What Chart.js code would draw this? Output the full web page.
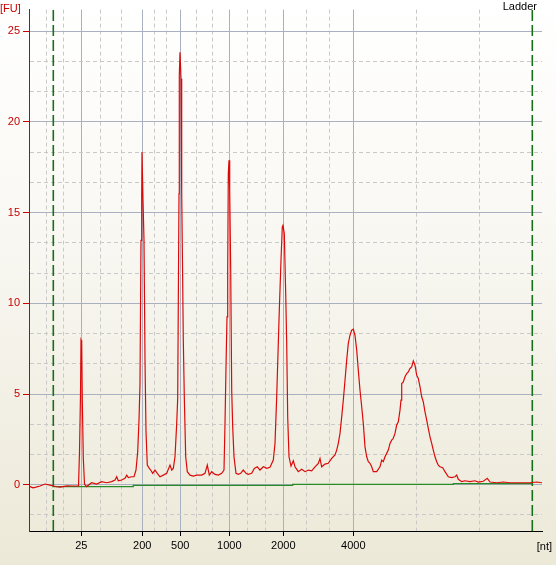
<!DOCTYPE html>
<html><head><meta charset="utf-8">
<script src="https://cdn.jsdelivr.net/npm/chart.js@4"></script>
<style>html,body{margin:0;padding:0;background:#fff}canvas{display:block}</style>
</head><body>
<canvas id="c" width="556" height="565"></canvas>
<script>
// Migration time (s) and fluorescence (FU) of the ladder trace
const traceTime = [20.0,20.35,20.65,21.05,21.55,22.05,22.35,22.75,23.05,23.75,24.25,24.9,25.0,25.1,25.15,25.22,25.28,25.38,25.5,25.7,26.22,26.72,27.22,27.72,28.22,28.55,28.72,28.88,29.22,29.55,29.72,29.88,30.22,30.45,30.65,30.82,30.95,31.05,31.15,31.22,31.25,31.35,31.45,31.55,31.65,31.78,31.98,32.12,32.32,32.55,32.78,33.05,33.38,33.72,34.05,34.22,34.38,34.55,34.72,34.82,34.88,34.95,34.98,35.05,35.15,35.22,35.32,35.38,35.48,35.62,35.78,36.05,36.38,36.72,37.22,37.55,37.78,37.98,38.22,38.55,38.88,39.22,39.45,39.55,39.65,39.75,39.82,39.88,39.95,40.02,40.12,40.22,40.32,40.45,40.65,40.88,41.12,41.38,41.65,41.88,42.22,42.48,42.78,43.05,43.38,43.72,44.05,44.38,44.55,44.72,44.88,44.98,45.15,45.28,45.35,45.48,45.62,45.72,45.82,45.95,46.15,46.38,46.55,46.88,47.22,47.55,47.88,48.22,48.55,48.88,49.05,49.22,49.55,49.88,50.22,50.55,50.72,50.88,51.05,51.22,51.38,51.55,51.72,51.88,52.05,52.22,52.38,52.55,52.72,52.88,53.05,53.22,53.38,53.55,53.72,53.88,54.05,54.22,54.38,54.72,55.05,55.22,55.38,55.55,55.88,56.05,56.22,56.38,56.55,56.72,56.88,57.05,57.15,57.22,57.38,57.55,57.72,57.88,58.05,58.22,58.38,58.55,58.72,58.88,59.05,59.22,59.38,59.55,59.72,59.88,60.05,60.22,60.38,60.55,60.72,60.88,61.05,61.32,61.55,61.88,62.22,62.55,62.72,62.88,63.22,63.55,64.05,64.55,64.88,65.38,65.78,66.05,66.72,67.38,68.05,68.72,69.38,70.05,70.72,71.25];
const traceFU = [-0.09,-0.17,-0.13,-0.07,0.04,-0.02,-0.07,-0.11,-0.13,-0.06,-0.07,-0.07,1.80,4.94,7.97,7.86,4.66,1.47,0.04,-0.10,0.11,0.04,0.17,0.11,0.17,0.26,0.44,0.22,0.26,0.35,0.53,0.39,0.44,0.44,0.81,1.82,3.56,5.58,13.47,15.86,18.34,15.68,13.47,6.87,2.92,1.08,0.90,0.81,0.63,0.81,0.63,0.44,0.53,0.63,1.08,0.81,0.90,1.54,3.38,4.76,9.99,16.05,22.56,23.84,22.38,16.05,11.09,7.97,4.85,1.54,0.72,0.53,0.48,0.53,0.53,0.63,1.08,0.53,0.72,0.57,0.53,0.63,0.81,3.38,6.50,9.25,11.82,17.15,17.88,16.23,11.82,5.21,3.19,1.54,0.63,0.57,0.63,0.81,0.63,0.57,0.63,0.90,0.99,0.81,0.99,0.90,0.96,1.36,2.28,4.85,7.79,9.62,12.37,14.21,14.30,13.84,10.54,7.79,3.74,1.54,1.03,1.32,0.99,0.72,0.85,0.72,0.81,0.77,0.99,1.18,1.45,0.99,1.14,1.18,1.45,1.64,1.91,2.28,2.83,3.74,4.66,5.76,6.87,7.79,8.24,8.52,8.57,8.24,7.42,6.32,5.21,4.30,3.38,2.09,1.54,1.27,1.18,0.99,0.72,0.72,0.99,1.36,1.27,1.54,1.91,2.28,2.46,2.56,2.83,3.29,3.47,4.11,4.66,5.58,5.67,5.95,6.13,6.22,6.41,6.50,6.83,6.59,6.04,5.86,5.40,4.85,4.57,4.02,3.56,3.11,2.64,2.28,1.91,1.54,1.27,1.08,0.99,0.94,0.72,0.44,0.39,0.44,0.53,0.30,0.17,0.22,0.17,0.22,0.15,0.19,0.35,0.15,0.11,0.15,0.11,0.11,0.11,0.11,0.15,0.11];

// Baseline (green)
const baselineTime = [22.28,30.38,30.38,46.32,46.32,62.38,62.38,70.28];
const baselineFU = [-0.10,-0.10,-0.03,-0.03,0.02,0.02,0.06,0.06];

// Lower / upper marker positions (s)
const markerTimes = [22.38, 70.28];

// Ladder sizes on the x axis
const ladderTimes = [25.18, 31.28, 35.08, 39.98, 45.38, 52.38];
const ladderLabels = ['25','200','500','1000','2000','4000'];
const minorGridTimes = [21.65,23.38,27.12,29.18,32.48,33.72,36.68,38.28,41.82,43.62,47.68,49.98,58.68,64.98];

// Y ticks
const yMajorTicks = [0,5,10,15,20,25];
const yMinorTicks = [-1.667,1.667,3.333,6.667,8.333,11.667,13.333,16.667,18.333,21.667,23.333];

const sampleName = 'Ladder';
const yUnit = '[FU]';
const xUnit = '[nt]';

const X_MIN = 19.95, X_MAX = 71.25, Y_MIN = -2.55, Y_MAX = 26.19;

const near = (a, b) => Math.abs(a - b) < 1e-3;
const isMajorX = v => ladderTimes.some(t => near(t, v));
const isMajorY = v => yMajorTicks.some(t => near(t, v));

const FONT = {family: 'Liberation Sans', size: 11};
const AXIS_RED = '#C80000';
const GRID_MAJOR = '#A9B1C0';
const GRID_MINOR = '#C9C9C9';

const bgPlugin = {
  id: 'bg',
  beforeDraw(chart) {
    const {ctx, width, height} = chart;
    const g = ctx.createLinearGradient(0, 0, 0, height);
    g.addColorStop(0, '#FFFFFF');
    g.addColorStop(0.35, '#FAF9F5');
    g.addColorStop(1, '#ECE9D8');
    ctx.save();
    ctx.fillStyle = g;
    ctx.fillRect(0, 0, width, height);
    ctx.restore();
  }
};

const textPlugin = {
  id: 'texts',
  afterDraw(chart) {
    const {ctx, chartArea, width} = chart;
    ctx.save();
    ctx.font = '11px "Liberation Sans"';
    ctx.textBaseline = 'middle';
    ctx.fillStyle = AXIS_RED;
    ctx.textAlign = 'left';
    ctx.fillText(yUnit, 0, 9);
    ctx.fillStyle = '#000';
    ctx.textAlign = 'right';
    ctx.fillText(xUnit, width - 4, chartArea.bottom + 16);
    ctx.fillText(sampleName, width - 19, 7);
    ctx.restore();
  }
};

const trace = traceTime.map((t, i) => ({x: t, y: traceFU[i]}));
const baseline = baselineTime.map((t, i) => ({x: t, y: baselineFU[i]}));
const markerSets = markerTimes.map(t => ({
  data: [{x: t, y: Y_MIN}, {x: t, y: Y_MAX}],
  borderColor: '#16701A', borderWidth: 1.6, borderDash: [11, 4],
  pointRadius: 0, fill: false
}));

new Chart(document.getElementById('c'), {
  type: 'line',
  data: {
    datasets: [
      {data: trace, borderColor: '#DA0A0A', borderWidth: 1.2, pointRadius: 0, tension: 0, fill: false},
      {data: baseline, borderColor: '#2A8A2A', borderWidth: 1.3, pointRadius: 0, tension: 0, fill: false},
      ...markerSets
    ]
  },
  options: {
    responsive: false,
    animation: false,
    devicePixelRatio: 1,
    layout: {padding: {top: 9, right: 14, left: 0, bottom: 0}},
    plugins: {legend: {display: false}, tooltip: {enabled: false}},
    scales: {
      x: {
        type: 'linear', min: X_MIN, max: X_MAX,
        afterFit: s => { s.height = 34; },
        afterBuildTicks: s => {
          s.ticks = [...ladderTimes, ...minorGridTimes].sort((a, b) => a - b).map(v => ({value: v}));
        },
        ticks: {
          autoSkip: false, maxRotation: 0, color: '#000', font: FONT, padding: 3,
          callback: v => { const i = ladderTimes.findIndex(t => near(t, v)); return i >= 0 ? ladderLabels[i] : ''; }
        },
        grid: {
          color: c => (c.tick && isMajorX(c.tick.value)) ? GRID_MAJOR : GRID_MINOR,
          lineWidth: 1,
          tickLength: 5,
          tickColor: c => (c.tick && isMajorX(c.tick.value)) ? '#000' : 'rgba(0,0,0,0)'
        },
        border: {color: '#000', width: 1, dash: c => (c.tick && !isMajorX(c.tick.value)) ? [4, 3] : []}
      },
      y: {
        type: 'linear', min: Y_MIN, max: Y_MAX,
        afterFit: s => { s.width = 29; },
        afterBuildTicks: s => {
          s.ticks = [...yMajorTicks, ...yMinorTicks].sort((a, b) => a - b).map(v => ({value: v}));
        },
        ticks: {
          autoSkip: false, color: AXIS_RED, font: FONT, padding: 3,
          callback: v => isMajorY(v) ? String(Math.round(v)) : ''
        },
        grid: {
          color: c => (c.tick && isMajorY(c.tick.value)) ? GRID_MAJOR : GRID_MINOR,
          lineWidth: 1,
          tickLength: 6,
          tickColor: c => (c.tick && isMajorY(c.tick.value)) ? AXIS_RED : 'rgba(0,0,0,0)'
        },
        border: {color: AXIS_RED, width: 1, dash: c => (c.tick && !isMajorY(c.tick.value)) ? [4, 3] : []}
      }
    }
  },
  plugins: [bgPlugin, textPlugin]
});
</script>
</body></html>
